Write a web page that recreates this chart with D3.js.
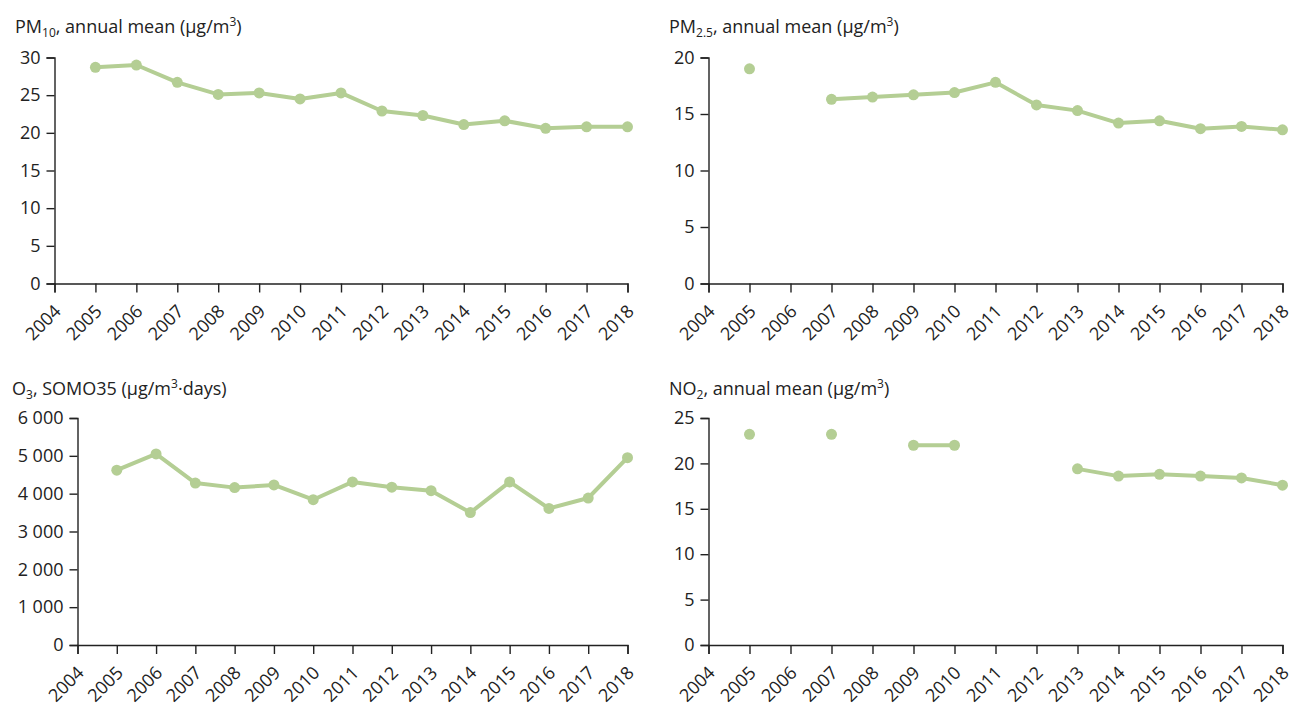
<!DOCTYPE html>
<html>
<head>
<meta charset="utf-8">
<script src="https://cdn.jsdelivr.net/npm/d3@7"></script>
<style>
  body { margin: 0; background: #fff; }
  svg text { font-family: "Open Sans", sans-serif; fill: #222; }
</style>
</head>
<body>
<div class="charts"></div>
<script>
var width = 1293, height = 708

var years = [2004, 2005, 2006, 2007, 2008, 2009, 2010, 2011, 2012, 2013, 2014, 2015, 2016, 2017, 2018]
var pm10 = [null, 28.7, 29.0, 26.7, 25.1, 25.3, 24.5, 25.3, 22.9, 22.3, 21.1, 21.6, 20.6, 20.8, 20.8]
var pm25 = [null, 19.0, null, 16.3, 16.5, 16.7, 16.9, 17.8, 15.8, 15.3, 14.2, 14.4, 13.7, 13.9, 13.6]
var o3 = [null, 4620, 5050, 4280, 4160, 4230, 3840, 4310, 4170, 4080, 3500, 4310, 3610, 3885, 4950]
var no2 = [null, 23.2, null, 23.2, null, 22.0, 22.0, null, null, 19.4, 18.6, 18.8, 18.6, 18.4, 17.6]

var pm10Ticks = [0, 5, 10, 15, 20, 25, 30]
var pm25Ticks = [0, 5, 10, 15, 20]
var o3Ticks = [0, 1000, 2000, 3000, 4000, 5000, 6000]
var no2Ticks = [0, 5, 10, 15, 20, 25]

var green = '#b4ce94'
var fontSize = '18px'
var spaceFormat = d3.formatLocale({ decimal: '.', thousands: '\u00a0', grouping: [3], currency: ['', ''] }).format(',')

// title parts: [text, 'sub'|'sup'|null]
var panels = [
  { values: pm10, ticks: pm10Ticks, left: 54.5, right: 627.5, top: 57.5, bottom: 283.5, tx: 15, ty: 33,
    title: [['PM', null], ['10', 'sub'], [', annual mean (µg/m', null], ['3', 'sup'], [')', null]] },
  { values: pm25, ticks: pm25Ticks, left: 708.5, right: 1282.5, top: 57.5, bottom: 283.5, tx: 669, ty: 33,
    title: [['PM', null], ['2.5', 'sub'], [', annual mean (µg/m', null], ['3', 'sup'], [')', null]] },
  { values: o3, ticks: o3Ticks, left: 77.5, right: 627.5, top: 418, bottom: 645, tx: 12, ty: 395, fmt: spaceFormat,
    title: [['O', null], ['3', 'sub'], [', SOMO35 (µg/m', null], ['3', 'sup'], ['·days)', null]] },
  { values: no2, ticks: no2Ticks, left: 708.5, right: 1282.5, top: 418, bottom: 645, tx: 669, ty: 395,
    title: [['NO', null], ['2', 'sub'], [', annual mean (µg/m', null], ['3', 'sup'], [')', null]] }
]

function drawGraph() {
  var svg = d3.select('.charts')
    .append('svg')
      .attr('width', width)
      .attr('height', height)

  panels.forEach(function(p) {
    var data = years.map(function(y, i) { return { year: y, value: p.values[i] } })

    var x = d3.scaleLinear()
      .domain([years[0], years[years.length - 1]])
      .range([p.left, p.right])

    var y = d3.scaleLinear()
      .domain([0, d3.max(p.ticks)])
      .range([p.bottom, p.top])

    var g = svg.append('g')

    // y axis
    var yAxis = g.append('g')
      .attr('transform', 'translate(' + p.left + ',0)')
      .call(d3.axisLeft(y).tickValues(p.ticks).tickSize(8).tickPadding(6)
        .tickFormat(p.fmt || d3.format('d')))
    yAxis.selectAll('text').style('font-size', fontSize)

    // x axis
    var xAxis = g.append('g')
      .attr('transform', 'translate(0,' + p.bottom + ')')
      .call(d3.axisBottom(x).tickValues(years).tickSize(9).tickFormat(d3.format('d')))
    xAxis.selectAll('text')
      .attr('y', 0)
      .attr('dy', 0)
      .attr('transform', 'translate(7,29) rotate(-45)')
      .style('text-anchor', 'end')
      .style('font-size', fontSize)

    g.selectAll('.domain, .tick line')
      .attr('stroke', '#222')
      .attr('stroke-width', 1.4)

    // line (gaps where data is missing)
    var line = d3.line()
      .defined(function(d) { return d.value != null })
      .x(function(d) { return x(d.year) })
      .y(function(d) { return y(d.value) })

    g.append('path')
      .datum(data)
      .attr('d', line)
      .attr('fill', 'none')
      .attr('stroke', green)
      .attr('stroke-width', 4)
      .attr('stroke-linejoin', 'round')

    g.selectAll('circle')
      .data(data.filter(function(d) { return d.value != null }))
      .enter()
      .append('circle')
      .attr('cx', function(d) { return x(d.year) })
      .attr('cy', function(d) { return y(d.value) })
      .attr('r', 5.5)
      .attr('fill', green)

    // title with sub/superscripts
    var title = g.append('text')
      .attr('x', p.tx)
      .attr('y', p.ty)
      .style('font-size', fontSize)
    var prev = null
    p.title.forEach(function(part) {
      var t = title.append('tspan').text(part[0])
      if (part[1] == 'sub') {
        t.style('font-size', '12px').attr('dy', 4)
      } else if (part[1] == 'sup') {
        t.style('font-size', '12px').attr('dy', -7)
      } else if (prev == 'sub') {
        t.attr('dy', -4)
      } else if (prev == 'sup') {
        t.attr('dy', 7)
      }
      prev = part[1]
    })
  })
}

drawGraph()
</script>
</body>
</html>
